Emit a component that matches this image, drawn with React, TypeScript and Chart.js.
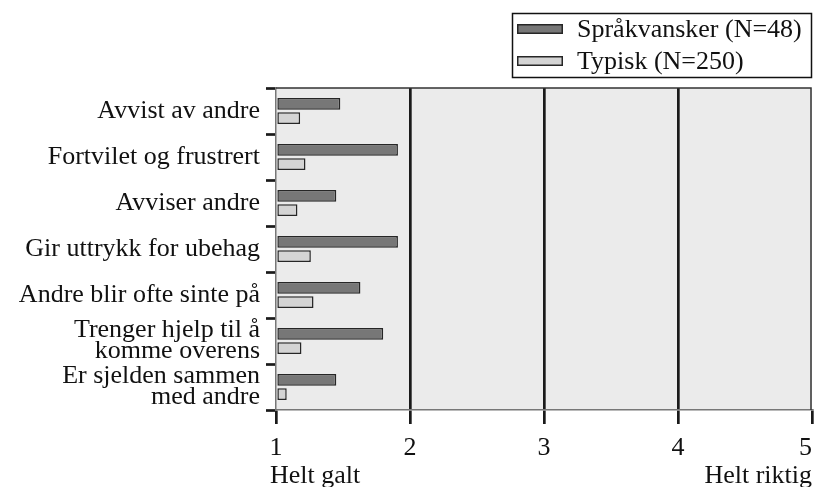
import React, { useEffect, useRef } from "react";
import { Chart, registerables } from "chart.js";

Chart.register(...registerables);

const categories: (string | string[])[] = [
  "Avvist av andre",
  "Fortvilet og frustrert",
  "Avviser andre",
  "Gir uttrykk for ubehag",
  "Andre blir ofte sinte på",
  ["Trenger hjelp til å", "komme overens"],
  ["Er sjelden sammen", "med andre"],
];
const seriesNames = ["Språkvansker (N=48)", "Typisk (N=250)"];
const spraakvansker = [1.48, 1.91, 1.45, 1.91, 1.63, 1.8, 1.45];
const typisk = [1.18, 1.22, 1.16, 1.26, 1.28, 1.19, 1.08];
const xTicks = [1, 2, 3, 4, 5];
const xEndLabels = ["Helt galt", "Helt riktig"];

const FONT = "'Liberation Serif', 'Times New Roman', serif";
const TEXT = "#111";
const DARK = "#777777";
const LIGHT = "#d4d4d4";
const EDGE = "#262626";

const decorPlugin = {
  id: "decor",
  beforeDraw(chart: any) {
    const { ctx, chartArea: a } = chart;
    ctx.save();
    ctx.fillStyle = "#ebebeb";
    ctx.fillRect(a.left, a.top, a.right - a.left, a.bottom - a.top);
    ctx.restore();
  },
  afterDraw(chart: any) {
    const { ctx, chartArea: a } = chart;
    const xs = chart.scales.x;
    ctx.save();
    // top and right frame
    ctx.strokeStyle = "#333";
    ctx.lineWidth = 1.5;
    ctx.beginPath();
    ctx.moveTo(a.left, a.top);
    ctx.lineTo(a.right - 1, a.top);
    ctx.lineTo(a.right - 1, a.bottom);
    ctx.stroke();

    // x tick labels
    ctx.font = `26px ${FONT}`;
    ctx.fillStyle = TEXT;
    ctx.textBaseline = "alphabetic";
    xTicks.forEach((v, i) => {
      const px = xs.getPixelForValue(v);
      ctx.textAlign = i === xTicks.length - 1 ? "right" : "center";
      ctx.fillText(String(v), px, a.bottom + 45);
    });
    ctx.textAlign = "left";
    ctx.fillText(xEndLabels[0], xs.getPixelForValue(xTicks[0]) - 6, a.bottom + 73);
    ctx.textAlign = "right";
    ctx.fillText(xEndLabels[1], xs.getPixelForValue(xTicks[xTicks.length - 1]), a.bottom + 73);

    // legend box
    const boxW = 300;
    const boxH = 64;
    const bx = a.right - boxW;
    const by = 13;
    ctx.strokeStyle = "#111";
    ctx.lineWidth = 1.5;
    ctx.strokeRect(bx + 0.5, by + 0.5, boxW - 1, boxH);
    chart.data.datasets.forEach((ds: any, i: number) => {
      const ry = by + 11 + i * 32;
      ctx.fillStyle = ds.backgroundColor;
      ctx.fillRect(bx + 5, ry, 46, 10);
      ctx.strokeStyle = EDGE;
      ctx.lineWidth = 1.5;
      ctx.strokeRect(bx + 5.75, ry + 0.75, 44.5, 8.5);
      ctx.fillStyle = TEXT;
      ctx.textAlign = "left";
      ctx.fillText(ds.label, bx + 65, ry + 13);
    });
    ctx.restore();
  },
};

export default function App() {
  const ref = useRef<HTMLCanvasElement>(null);

  useEffect(() => {
    if (!ref.current) return;
    const chart = new Chart(ref.current, {
      type: "bar",
      data: {
        labels: categories,
        datasets: [
          {
            label: seriesNames[0],
            data: spraakvansker,
            backgroundColor: DARK,
            borderColor: EDGE,
            borderWidth: 1.5,
            borderSkipped: false,
            base: 1,
            categoryPercentage: 0.62,
            barPercentage: 0.82,
          },
          {
            label: seriesNames[1],
            data: typisk,
            backgroundColor: LIGHT,
            borderColor: EDGE,
            borderWidth: 1.5,
            borderSkipped: false,
            base: 1,
            categoryPercentage: 0.62,
            barPercentage: 0.82,
          },
        ],
      } as any,
      options: {
        indexAxis: "y",
        animation: false,
        responsive: true,
        maintainAspectRatio: false,
        layout: { padding: { top: 88, right: 2, left: 0, bottom: 0 } },
        plugins: {
          legend: { display: false },
          tooltip: { enabled: false },
        },
        scales: {
          x: {
            type: "linear",
            min: 1,
            max: 5,
            ticks: { display: false, stepSize: 1 },
            grid: {
              color: (c: any) =>
                c.tick && (c.tick.value === 1 || c.tick.value === 5) ? "rgba(0,0,0,0)" : "#1a1a1a",
              lineWidth: 2.7,
              tickLength: 14,
              tickWidth: 2.7,
              tickColor: "#1a1a1a",
            },
            border: { display: true, color: "#777", width: 1.5 },
            afterFit(s: any) {
              s.height = 77;
            },
          },
          y: {
            grid: {
              offset: true,
              drawOnChartArea: false,
              tickLength: 10,
              tickWidth: 2.7,
              tickColor: "#1a1a1a",
              color: "#1a1a1a",
            },
            border: { display: true, color: "#777", width: 1.5 },
            ticks: {
              autoSkip: false,
              padding: 6,
              color: TEXT,
              font: { family: FONT, size: 26, lineHeight: 0.8 },
            },
            afterFit(s: any) {
              s.width = 276;
            },
          },
        },
      } as any,
      plugins: [decorPlugin],
    });
    return () => chart.destroy();
  }, []);

  return (
    <div style={{ position: "fixed", left: 0, top: 0, width: 814, height: 487 }}>
      <canvas ref={ref} />
    </div>
  );
}
